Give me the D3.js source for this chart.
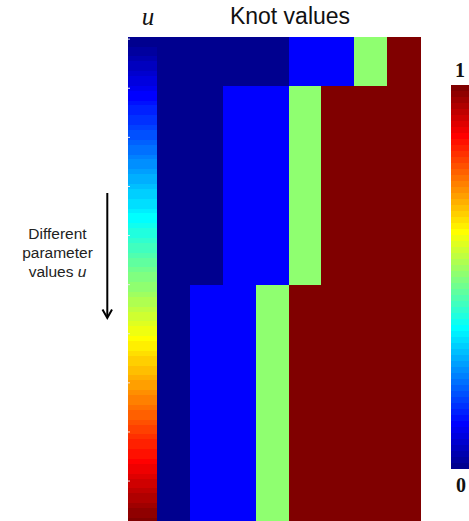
<!DOCTYPE html>
<html>
<head>
<meta charset="utf-8">
<script src="https://cdn.jsdelivr.net/npm/d3@7"></script>
<style>
  html, body { margin: 0; padding: 0; background: #fff; }
  svg { display: block; }
</style>
</head>
<body>
<svg id="chart" width="469" height="521"></svg>
<script>
// Parameter samples along the vertical axis
const uCount = 100;
// Tick positions (1-based sample rows) marked on the u strip
const uTicks = [1, 11, 21, 31, 41, 51, 61, 71, 81, 91];
// u intervals over which each knot vector holds
const knotSpanStart = [0, 0.1, 0.505];
const knotSpanEnd = [0.1, 0.505, 1];
// Knot vector for each interval (8 knots each)
const knotVectors = [
  [0, 0, 0, 0, 0.12, 0.12, 0.5, 1],
  [0, 0, 0.12, 0.12, 0.5, 1, 1, 1],
  [0, 0.12, 0.12, 0.5, 1, 1, 1, 1]
];
// Colour bar end labels
const colorbarLabels = ["0", "1"];
const colorbarValues = [0, 1];

// MATLAB-style jet colormap with m levels
function jetMap(m) {
  const n = Math.ceil(m / 4);
  const u = [];
  for (let i = 1; i <= n; i++) u.push(i / n);
  for (let i = 1; i < n; i++) u.push(1);
  for (let i = n; i >= 1; i--) u.push(i / n);
  const off = Math.ceil(n / 2) - (m % 4 === 1 ? 1 : 0);
  const cmap = Array.from({length: m}, () => [0, 0, 0]);
  u.forEach((val, p) => {
    const g = off + p + 1, r = g + n, b = g - n;
    if (r >= 1 && r <= m) cmap[r - 1][0] = val;
    if (g >= 1 && g <= m) cmap[g - 1][1] = val;
    if (b >= 1 && b <= m) cmap[b - 1][2] = val;
  });
  return cmap.map(c => d3.rgb(c[0] * 255, c[1] * 255, c[2] * 255).formatHex());
}
const jet = jetMap(64);
const colorScale = d3.scaleQuantize().domain([0, 1]).range(jet);
const colorOf = v => v >= 1 ? jet[63] : colorScale(v);

const svg = d3.select("#chart");

// Layout
const plotTop = 36.7, rowH = 4.91;
const yRow = d3.scaleLinear().domain([0, uCount]).range([plotTop, plotTop + uCount * rowH]);
const yU = d3.scaleLinear().domain([0, 1]).range([plotTop, plotTop + uCount * rowH]);
const xStrip = d3.scaleBand().domain(["u"]).range([128, 157]);
const xKnot = d3.scaleBand().domain(d3.range(8)).range([157, 420]);

// u strip: one cell per parameter sample
const uSamples = d3.range(uCount).map(i => i / (uCount - 1));
svg.append("g").attr("shape-rendering", "crispEdges")
  .selectAll("rect").data(uSamples).join("rect")
  .attr("x", xStrip("u"))
  .attr("width", xStrip.bandwidth())
  .attr("y", (d, i) => yRow(i))
  .attr("height", rowH + 0.5)
  .attr("fill", d => colorOf(d));

// Knot value cells
const knotCells = [];
knotVectors.forEach((vec, b) => vec.forEach((v, j) => knotCells.push({b, j, v})));
svg.append("g").attr("shape-rendering", "crispEdges")
  .selectAll("rect").data(knotCells).join("rect")
  .attr("x", d => xKnot(d.j))
  .attr("width", xKnot.bandwidth() + 0.5)
  .attr("y", d => yU(knotSpanStart[d.b]))
  .attr("height", d => yU(knotSpanEnd[d.b]) - yU(knotSpanStart[d.b]) + 0.5)
  .attr("fill", d => colorOf(d.v));

// Small tick marks on the strip edge
svg.append("g").selectAll("line").data(uTicks).join("line")
  .attr("x1", 128).attr("x2", 130)
  .attr("y1", d => yRow(d - 0.5)).attr("y2", d => yRow(d - 0.5))
  .attr("stroke", "#e8e8f0").attr("stroke-width", 1);

// Titles
svg.append("text")
  .attr("x", 148).attr("y", 25)
  .attr("text-anchor", "middle")
  .attr("font-family", "'Liberation Serif', 'Times New Roman', serif")
  .attr("font-style", "italic")
  .attr("font-size", 25)
  .attr("fill", "#111")
  .text("u");
svg.append("text")
  .attr("x", 290).attr("y", 24)
  .attr("text-anchor", "middle")
  .attr("font-family", "'Liberation Sans', Arial, sans-serif")
  .attr("font-size", 23)
  .attr("fill", "#111")
  .text("Knot values");

// Side annotation
const note = svg.append("text")
  .attr("text-anchor", "middle")
  .attr("font-family", "'Liberation Sans', Arial, sans-serif")
  .attr("font-size", 15.5)
  .attr("fill", "#222");
note.append("tspan").attr("x", 57.5).attr("y", 239).text("Different");
note.append("tspan").attr("x", 57.5).attr("y", 258).text("parameter");
const l3 = note.append("tspan").attr("x", 57.5).attr("y", 277);
l3.append("tspan").text("values ");
l3.append("tspan").attr("font-style", "italic").text("u");

// Downward arrow
svg.append("line")
  .attr("x1", 107.3).attr("x2", 107.3)
  .attr("y1", 193).attr("y2", 317)
  .attr("stroke", "#000").attr("stroke-width", 2);
svg.append("path")
  .attr("d", "M102.5,309.5 L107.3,318 L112,309.5")
  .attr("fill", "none").attr("stroke", "#000").attr("stroke-width", 2)
  .attr("stroke-linejoin", "miter");

// Colour bar
const yBar = d3.scaleLinear().domain([0, 1]).range([468, 85]);
const barLevels = d3.range(jet.length);
svg.append("g").attr("shape-rendering", "crispEdges")
  .selectAll("rect").data(barLevels).join("rect")
  .attr("x", 451).attr("width", 30)
  .attr("y", d => yBar((d + 1) / jet.length))
  .attr("height", d => yBar(d / jet.length) - yBar((d + 1) / jet.length) + 0.5)
  .attr("fill", d => jet[d]);

svg.append("g").selectAll("text").data(colorbarValues).join("text")
  .attr("x", (d, i) => i === 0 ? 461 : 460)
  .attr("y", d => d === 1 ? 77 : 492)
  .attr("text-anchor", "middle")
  .attr("font-family", "'Liberation Serif', 'Times New Roman', serif")
  .attr("font-weight", "bold")
  .attr("font-size", 20)
  .attr("fill", "#111")
  .text((d, i) => colorbarLabels[i]);
</script>
</body>
</html>
